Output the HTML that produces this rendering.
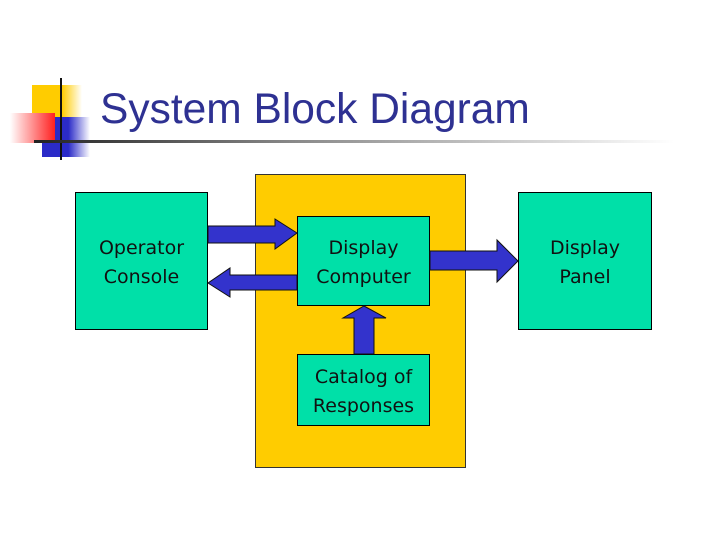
<!DOCTYPE html>
<html><head><style>
body{margin:0;width:720px;height:540px;background:#fff;position:relative;overflow:hidden;font-family:"Liberation Sans",sans-serif}
.a{position:absolute}
.box{position:absolute;background:#00E0A8;border:1px solid #000;box-sizing:border-box;display:flex;align-items:center;justify-content:center;text-align:center;font-family:"DejaVu Sans",sans-serif;font-size:19px;line-height:29px;color:#111;padding-top:3px}
</style></head><body>
<div class="a" style="left:32px;top:85px;width:50px;height:35px;background:linear-gradient(90deg,#FFCC00 60%,#fff)"></div>
<div class="a" style="left:42px;top:117px;width:48px;height:40px;background:linear-gradient(90deg,#2B2BC8 55%,#fff)"></div>
<div class="a" style="left:10px;top:113px;width:45px;height:30px;background:linear-gradient(90deg,#fff,#ff9090 50%,#ff2020)"></div>
<div class="a" style="left:60px;top:78px;width:2px;height:82px;background:#111"></div>
<div class="a" style="left:34px;top:140px;width:640px;height:3px;background:linear-gradient(90deg,#222,#888 40%,#fff)"></div>
<div class="a" style="left:100px;top:86px;font-size:42.5px;color:#2E3192;white-space:nowrap">System Block Diagram</div>
<div class="a" style="left:255px;top:174px;width:211px;height:294px;background:#FFCC00;border:1px solid #333;box-sizing:border-box"></div>
<div class="box" style="left:75px;top:192px;width:133px;height:138px">Operator<br>Console</div>
<div class="box" style="left:518px;top:192px;width:134px;height:138px">Display<br>Panel</div>
<div class="box" style="left:297px;top:216px;width:133px;height:90px">Display<br>Computer</div>
<div class="box" style="left:297px;top:354px;width:133px;height:72px">Catalog of<br>Responses</div>
<svg class="a" style="left:0;top:0" width="720" height="540">
<g fill="#3333CC" stroke="#111" stroke-width="1">
<polygon points="208,226 275,226 275,219 297,233 275,249 275,243 208,243"/>
<polygon points="297,275 230,275 230,268 208,283 230,297 230,290 297,290"/>
<polygon points="430,251 497,251 497,240 518,261 497,282 497,270 430,270"/>
<polygon points="354,354 354,318 343,318 364,306 386,318 374,318 374,354"/>
</g></svg>
</body></html>
